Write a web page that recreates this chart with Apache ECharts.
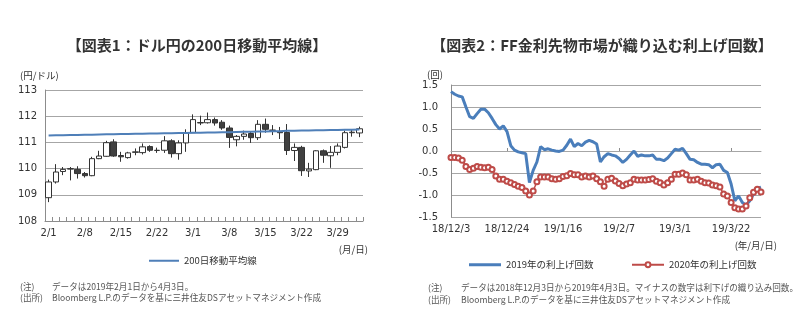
<!DOCTYPE html>
<html><head><meta charset="utf-8">
<script src="https://cdn.jsdelivr.net/npm/echarts@6/dist/echarts.min.js"></script>
<style>html,body{margin:0;padding:0;background:#fff}#c{width:806px;height:323px}</style>
</head><body><div id="c"></div>
<script>
// ---- Chart 1: USD/JPY daily candles + 200-day MA ----
const days1 = ['2/1','2/4','2/5','2/6','2/7','2/8','2/11','2/12','2/13','2/14','2/15','2/18','2/19','2/20','2/21','2/22','2/25','2/26','2/27','2/28','3/1','3/4','3/5','3/6','3/7','3/8','3/11','3/12','3/13','3/14','3/15','3/18','3/19','3/20','3/21','3/22','3/25','3/26','3/27','3/28','3/29','4/1','4/2','4/3'];
const opens  = [108.89,109.49,109.89,109.98,109.97,109.81,109.73,110.38,110.47,111.02,110.50,110.42,110.62,110.61,110.84,110.69,110.70,111.06,110.57,110.98,111.37,111.74,111.75,111.87,111.77,111.55,111.10,111.23,111.34,111.18,111.69,111.47,111.41,111.38,110.69,110.81,109.91,109.96,110.68,110.49,110.62,110.81,111.37,111.36];
const closes = [109.49,109.87,109.97,110.00,109.81,109.73,110.38,110.48,110.99,110.48,110.45,110.60,110.64,110.83,110.70,110.70,111.06,110.57,110.98,111.37,111.87,111.76,111.87,111.74,111.55,111.19,111.23,111.32,111.18,111.69,111.50,111.46,111.37,110.69,110.81,109.92,109.98,110.68,110.51,110.62,110.86,111.37,111.39,111.52];
const lows   = [108.72,109.43,109.75,109.55,109.62,109.66,109.71,110.36,110.45,110.45,110.26,110.38,110.51,110.54,110.64,110.60,110.60,110.42,110.34,110.64,111.37,111.66,111.72,111.64,111.48,110.79,110.85,111.10,110.98,111.09,111.37,111.28,111.13,110.52,110.29,109.72,109.68,109.94,110.22,110.03,110.51,110.77,111.22,111.20];
const highs  = [109.58,110.17,110.06,110.06,110.09,109.87,110.45,110.68,111.06,111.12,110.64,110.64,110.77,110.96,110.89,110.80,111.24,111.12,111.08,111.50,112.07,112.02,112.14,111.95,111.85,111.64,111.28,111.45,111.40,111.85,111.91,111.66,111.59,111.70,110.96,110.87,110.22,110.70,110.73,110.86,110.96,111.45,111.48,111.60];
const ma200  = [111.26,111.27,111.27,111.28,111.28,111.29,111.29,111.30,111.31,111.31,111.32,111.32,111.33,111.33,111.34,111.34,111.35,111.35,111.36,111.36,111.37,111.37,111.38,111.38,111.39,111.39,111.40,111.41,111.41,111.42,111.42,111.43,111.43,111.44,111.44,111.45,111.45,111.46,111.46,111.47,111.47,111.48,111.48,111.49];
const yTicks1 = [108,109,110,111,112,113];

// ---- Chart 2: FF futures implied hikes ----
const days2 = ['18/12/3','18/12/4','18/12/5','18/12/6','18/12/7','18/12/10','18/12/11','18/12/12','18/12/13','18/12/14','18/12/17','18/12/18','18/12/19','18/12/20','18/12/21','18/12/24','18/12/26','18/12/27','18/12/28','18/12/31',
'19/1/2','19/1/3','19/1/4','19/1/7','19/1/8','19/1/9','19/1/10','19/1/11','19/1/14','19/1/15','19/1/16','19/1/17','19/1/18','19/1/22','19/1/23','19/1/24','19/1/25','19/1/28','19/1/29','19/1/30','19/1/31',
'19/2/1','19/2/4','19/2/5','19/2/6','19/2/7','19/2/8','19/2/11','19/2/12','19/2/13','19/2/14','19/2/15','19/2/19','19/2/20','19/2/21','19/2/22','19/2/25','19/2/26','19/2/27','19/2/28',
'19/3/1','19/3/4','19/3/5','19/3/6','19/3/7','19/3/8','19/3/11','19/3/12','19/3/13','19/3/14','19/3/15','19/3/18','19/3/19','19/3/20','19/3/21','19/3/22','19/3/25','19/3/26','19/3/27','19/3/28','19/3/29',
'19/4/1','19/4/2','19/4/3'];
const hikes2019 = [1.35,1.29,1.25,1.23,1.00,0.78,0.74,0.85,0.95,0.95,0.87,0.74,0.60,0.50,0.57,0.44,0.12,0.02,-0.02,-0.04,
-0.06,-0.72,-0.44,-0.25,0.10,0.03,0.05,0.02,0.00,-0.01,0.02,0.13,0.27,0.10,0.17,0.12,0.20,0.24,0.21,0.16,-0.25,
-0.13,-0.06,-0.09,-0.11,-0.17,-0.26,-0.19,-0.09,0.00,-0.12,-0.09,-0.11,-0.11,-0.09,-0.19,-0.19,-0.22,-0.16,-0.06,
0.04,0.02,0.06,-0.06,-0.19,-0.20,-0.26,-0.30,-0.30,-0.31,-0.38,-0.31,-0.30,-0.44,-0.49,-0.75,-1.13,-1.02,-1.17,-1.23,-1.13,
-0.98,-0.85,-0.82];
const hikes2020 = [-0.15,-0.15,-0.16,-0.21,-0.35,-0.42,-0.39,-0.35,-0.37,-0.38,-0.37,-0.42,-0.57,-0.64,-0.64,-0.69,-0.72,-0.76,-0.80,-0.83,
-0.91,-1.00,-0.91,-0.70,-0.59,-0.59,-0.59,-0.63,-0.64,-0.63,-0.58,-0.56,-0.51,-0.54,-0.54,-0.59,-0.57,-0.59,-0.57,-0.63,-0.70,
-0.80,-0.64,-0.62,-0.68,-0.74,-0.79,-0.75,-0.72,-0.64,-0.66,-0.66,-0.66,-0.65,-0.63,-0.69,-0.72,-0.77,-0.72,-0.64,
-0.53,-0.53,-0.50,-0.54,-0.66,-0.66,-0.64,-0.69,-0.72,-0.73,-0.77,-0.79,-0.82,-0.98,-1.02,-1.17,-1.29,-1.32,-1.32,-1.25,-1.06,
-0.94,-0.87,-0.93];
const yTicks2 = [-1.5,-1.0,-0.5,0.0,0.5,1.0,1.5];

const NUM = '"DejaVu Sans", "Noto Sans CJK JP", sans-serif';
const JP = '"Noto Sans CJK JP", sans-serif';
const GRID = '#a6a6a6';
const AXIS = '#8c8c8c';
const TXT = '#333333';
const BLUE = '#4a7ebb';
const RED = '#be4b48';

const candles = opens.map((o, i) => [o, closes[i], lows[i], highs[i]]);

function txt(x, y, text, font, fill, align) {
  return { type: 'text', x: x, y: y, silent: true,
    style: { text: text, font: font, fill: fill || TXT, textAlign: align || 'left', textVerticalAlign: 'middle' } };
}

const chart = echarts.init(document.getElementById('c'), null, { renderer: 'canvas' });
chart.setOption({
  animation: false,
  backgroundColor: '#ffffff',
  grid: [
    { left: 45, top: 90, width: 318, height: 131 },
    { left: 451, top: 85, width: 310, height: 132 }
  ],
  xAxis: [
    { gridIndex: 0, type: 'category', data: days1, boundaryGap: true,
      axisLine: { lineStyle: { color: AXIS, width: 1 } },
      axisTick: { show: true, interval: 0, inside: true, length: 4, lineStyle: { color: AXIS } },
      axisLabel: { interval: 4, color: TXT, fontFamily: NUM, fontSize: 10, margin: 7 },
      splitLine: { show: false } },
    { gridIndex: 1, type: 'category', data: days2, boundaryGap: false,
      axisLine: { onZero: false, show: false },
      axisTick: { show: false },
      axisLabel: { interval: 14, color: TXT, fontFamily: NUM, fontSize: 10, margin: 7 },
      splitLine: { show: false } },
    { gridIndex: 1, type: 'category', data: days2, boundaryGap: false, position: 'bottom',
      axisLine: { onZero: true, show: true, lineStyle: { color: GRID } },
      axisTick: { show: true, interval: 14, inside: true, length: 3, lineStyle: { color: AXIS } },
      axisLabel: { show: false },
      splitLine: { show: false } }
  ],
  yAxis: [
    { gridIndex: 0, type: 'value', min: yTicks1[0], max: yTicks1[yTicks1.length - 1], interval: 1,
      axisLine: { show: true, lineStyle: { color: AXIS } },
      axisTick: { show: false },
      axisLabel: { color: TXT, fontFamily: NUM, fontSize: 10, margin: 8 },
      splitLine: { lineStyle: { color: GRID, width: 1 } } },
    { gridIndex: 1, type: 'value', min: yTicks2[0], max: yTicks2[yTicks2.length - 1], interval: 0.5,
      axisLine: { show: true, lineStyle: { color: AXIS } },
      axisTick: { show: false },
      axisLabel: { color: TXT, fontFamily: NUM, fontSize: 10, margin: 13, formatter: v => v.toFixed(1) },
      splitLine: { lineStyle: { color: GRID, width: 1 } } }
  ],
  legend: [
    { data: [{ name: '200日移動平均線', icon: 'rect' }], left: 144, top: 251, itemWidth: 30, itemHeight: 2,
      textStyle: { fontFamily: JP, fontSize: 9.5, color: TXT } },
    { data: [{ name: '2019年の利上げ回数', icon: 'rect' }], left: 464, top: 255, itemWidth: 32, itemHeight: 3,
      textStyle: { fontFamily: JP, fontSize: 9.5, color: TXT } },
    { data: ['2020年の利上げ回数'], left: 626, top: 255, itemWidth: 32, itemHeight: 6,
      textStyle: { fontFamily: JP, fontSize: 9.5, color: TXT } }
  ],
  series: [
    { name: 'ドル円', type: 'candlestick', xAxisIndex: 0, yAxisIndex: 0, data: candles, barWidth: 6,
      itemStyle: { color: '#ffffff', color0: '#404040', borderColor: '#333333', borderColor0: '#333333', borderWidth: 1 } },
    { name: '200日移動平均線', type: 'line', xAxisIndex: 0, yAxisIndex: 0, data: ma200, symbol: 'none',
      lineStyle: { color: '#4f7fb8', width: 2 }, itemStyle: { color: '#4f7fb8' } },
    { name: '2019年の利上げ回数', type: 'line', xAxisIndex: 1, yAxisIndex: 1, data: hikes2019, symbol: 'none',
      lineStyle: { color: BLUE, width: 3 }, itemStyle: { color: BLUE } },
    { name: '2020年の利上げ回数', type: 'line', xAxisIndex: 1, yAxisIndex: 1, data: hikes2020,
      symbol: 'emptyCircle', symbolSize: 5, showAllSymbol: true,
      lineStyle: { color: RED, width: 1.5 }, itemStyle: { color: RED, borderWidth: 1 } }
  ],
  graphic: [
    txt(197, 45, '【図表1：ドル円の200日移動平均線】', 'bold 15px ' + JP, '#333', 'center'),
    txt(602, 45, '【図表2：FF金利先物市場が織り込む利上げ回数】', 'bold 15px ' + JP, '#333', 'center'),
    txt(20, 75, '(円/ドル)', '9.5px ' + JP, TXT),
    txt(427, 74, '(回)', '9.5px ' + JP, TXT),
    txt(368, 249, '(月/日)', '9.5px ' + JP, TXT, 'right'),
    txt(777, 245, '(年/月/日)', '9.5px ' + JP, TXT, 'right'),
    txt(20, 287, '(注)', '8.6px ' + JP, '#555'),
    txt(52, 287, 'データは2019年2月1日から4月3日。', '8.6px ' + JP, '#555'),
    txt(20, 298, '(出所)', '8.6px ' + JP, '#555'),
    txt(52, 298, 'Bloomberg L.P.のデータを基に三井住友DSアセットマネジメント作成', '8.6px ' + JP, '#555'),
    txt(428, 288, '(注)', '8.6px ' + JP, '#555'),
    txt(461, 288, 'データは2018年12月3日から2019年4月3日。マイナスの数字は利下げの織り込み回数。', '8.6px ' + JP, '#555'),
    txt(428, 300, '(出所)', '8.6px ' + JP, '#555'),
    txt(461, 300, 'Bloomberg L.P.のデータを基に三井住友DSアセットマネジメント作成', '8.6px ' + JP, '#555')
  ]
});
</script>
</body></html>
